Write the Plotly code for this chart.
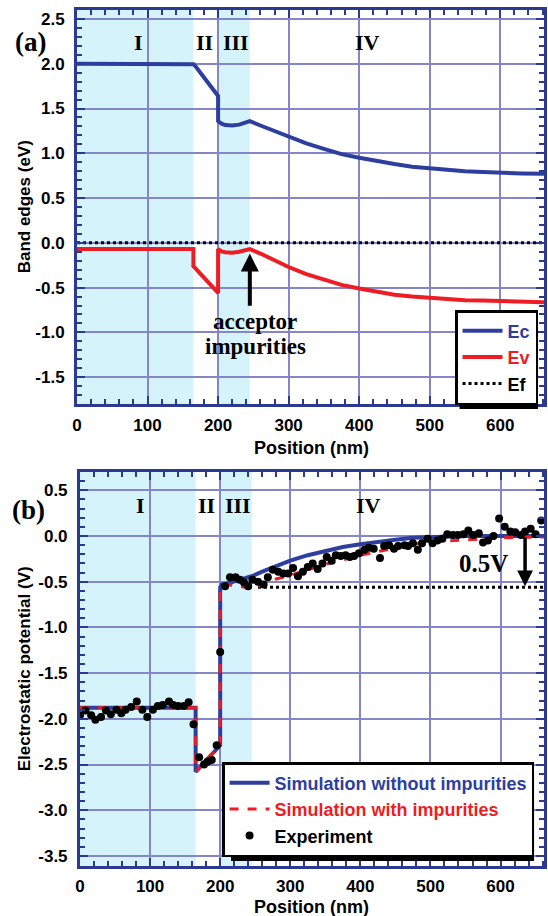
import plotly.graph_objects as go

# ---------------- data: panel (a) band edges ----------------
ec_x = [0, 160, 165, 168, 200, 200, 205, 210, 220, 230, 240, 245, 260, 280, 300, 325, 350, 375,
        400, 425, 450, 475, 500, 525, 550, 575, 600, 630, 662]
ec_y = [2.0, 2.0, 1.995, 1.97, 1.64, 1.36, 1.33, 1.315, 1.31, 1.32, 1.345, 1.36, 1.31, 1.25, 1.19,
        1.11, 1.05, 0.99, 0.95, 0.91, 0.88, 0.85, 0.83, 0.81, 0.80, 0.79, 0.78, 0.775, 0.77]
ev_x = [0, 165, 165, 200, 200, 205, 210, 220, 230, 240, 245, 260, 280, 300, 325, 350, 375, 400,
        425, 450, 475, 500, 525, 550, 575, 600, 630, 662]
ev_y = [-0.07, -0.07, -0.26, -0.56, -0.07, -0.095, -0.105, -0.11, -0.10, -0.08, -0.07, -0.12, -0.20,
        -0.27, -0.35, -0.41, -0.47, -0.51, -0.55, -0.58, -0.60, -0.615, -0.63, -0.64, -0.645, -0.65,
        -0.66, -0.665]
ef_x = [0, 662]
ef_y = [0.0, 0.0]

# ---------------- data: panel (b) electrostatic potential ----------------
sim0_x = [0, 165, 165, 200, 200, 202, 210, 220, 230, 245, 260, 280, 300, 325, 350, 375, 400, 425,
          450, 475, 500, 550, 662]
sim0_y = [-1.88, -1.88, -2.58, -2.29, -0.56, -0.53, -0.52, -0.50, -0.48, -0.44, -0.39, -0.33, -0.27,
          -0.21, -0.16, -0.12, -0.09, -0.06, -0.04, -0.02, -0.01, 0.0, 0.0]
sim1_x = [0, 165, 165, 200, 200, 202, 210, 220, 235, 245, 260, 280, 300, 325, 350, 375, 400, 425,
          450, 475, 500, 550, 600, 662]
sim1_y = [-1.88, -1.88, -2.58, -2.29, -0.56, -0.54, -0.53, -0.54, -0.56, -0.58, -0.53, -0.47, -0.43,
          -0.37, -0.31, -0.26, -0.21, -0.17, -0.13, -0.09, -0.065, -0.04, -0.02, -0.01]
exp_x = [0, 8, 16, 22, 30, 37, 44, 52, 59, 65, 73, 81, 89, 96, 104, 111, 118, 127, 133, 140, 148,
         155, 162, 170, 177, 182, 188, 195, 200,
         207, 214, 222, 228, 234, 240, 246, 254, 262, 268, 275, 283, 290, 297, 304, 311, 318, 325,
         332, 339, 346, 352, 359, 365, 372, 379, 385, 391, 398, 406, 412, 419, 428, 434, 441, 448,
         454, 463, 468, 475, 482, 488, 496, 503, 510, 517, 524, 532, 539, 547, 554, 561, 569, 575,
         582, 590, 598, 606, 614, 621, 629, 635, 643, 650, 658]
exp_y = [-1.96, -1.91, -1.96, -2.01, -1.98, -1.91, -1.95, -1.90, -1.94, -1.90, -1.87, -1.81, -1.90,
         -1.98, -1.90, -1.86, -1.85, -1.81, -1.85, -1.86, -1.86, -1.82, -2.06, -2.42, -2.50, -2.47,
         -2.45, -2.29, -1.27,
         -0.55, -0.45, -0.45, -0.48, -0.51, -0.55, -0.48, -0.50, -0.53, -0.45, -0.37, -0.39, -0.41,
         -0.41, -0.35, -0.44, -0.39, -0.34, -0.30, -0.36, -0.30, -0.23, -0.27, -0.21, -0.22, -0.21,
         -0.23, -0.22, -0.19, -0.15, -0.13, -0.14, -0.24, -0.11, -0.10, -0.14, -0.11, -0.10, -0.11,
         -0.08, -0.15, -0.08, -0.03, -0.08, -0.05, -0.03, 0.02, 0.01, 0.01, 0.02, 0.06, 0.01, 0.03,
         -0.07, -0.05, 0.0, 0.19, 0.10, 0.05, 0.04, 0.01, 0.05, 0.08, 0.02, 0.17]
ref_x = [254, 662]
ref_y = [-0.56, -0.56]

regions = ["I", "II", "III", "IV"]
region_x = [87, 181, 225, 412]
shade_spans = [(0, 165), (200, 245)]

x_ticks = [0, 100, 200, 300, 400, 500, 600]
y1_ticks = [-1.5, -1.0, -0.5, 0.0, 0.5, 1.0, 1.5, 2.0, 2.5]
y2_ticks = [-3.5, -3.0, -2.5, -2.0, -1.5, -1.0, -0.5, 0.0, 0.5]

# ---------------- style ----------------
BLUE = "#2e3e9e"
RED = "#ee1c24"
FRAME = "#2b3990"
GRID = "#8585c9"
SHADE = "#d4f3fb"
SANS = "Liberation Sans"
SERIF = "Liberation Serif"

W, H = 548, 916
ML, MR, MT, MB = 77, 1, 10, 50
PW = W - ML - MR
PH = H - MT - MB


def px_x(p):
    return (p - ML) / PW


def px_y(p):
    return (H - MB - p) / PH


def lab(v):
    return ("%.1f" % v).replace("\u2212", "-")


fig = go.Figure()

fig.add_trace(go.Scatter(x=ec_x, y=ec_y, mode="lines", line=dict(color=BLUE, width=4),
                         name='<span style="color:%s">Ec</span>' % BLUE, xaxis="x", yaxis="y",
                         legend="legend"))
fig.add_trace(go.Scatter(x=ev_x, y=ev_y, mode="lines", line=dict(color=RED, width=4),
                         name='<span style="color:%s">Ev</span>' % RED, xaxis="x", yaxis="y",
                         legend="legend"))
fig.add_trace(go.Scatter(x=ef_x, y=ef_y, mode="lines", line=dict(color="black", width=3, dash="dot"),
                         name="Ef", xaxis="x", yaxis="y", legend="legend"))

fig.add_trace(go.Scatter(x=ref_x, y=ref_y, mode="lines", line=dict(color="black", width=3, dash="dot"),
                         showlegend=False, xaxis="x2", yaxis="y2"))
fig.add_trace(go.Scatter(x=sim0_x, y=sim0_y, mode="lines", line=dict(color=BLUE, width=4),
                         name='<span style="color:%s">Simulation without impurities</span>' % BLUE,
                         xaxis="x2", yaxis="y2", legend="legend2"))
fig.add_trace(go.Scatter(x=sim1_x, y=sim1_y, mode="lines", line=dict(color=RED, width=3, dash="dash"),
                         name='<span style="color:%s">Simulation with impurities</span>' % RED,
                         xaxis="x2", yaxis="y2", legend="legend2"))
fig.add_trace(go.Scatter(x=exp_x, y=exp_y, mode="markers", marker=dict(color="black", size=8),
                         name="Experiment", xaxis="x2", yaxis="y2", legend="legend2"))

# shaded regions
for yref in ("y", "y2"):
    xr = "x" if yref == "y" else "x2"
    for a, b in shade_spans:
        fig.add_shape(type="rect", xref=xr, yref=yref + " domain", x0=a, x1=b, y0=0, y1=1,
                      fillcolor=SHADE, line_width=0, layer="below")

# legend shadows (drawn under the legend boxes, visible only at right/bottom offset)
for (l, t, r, b) in ((462, 319, 541, 409), (232, 773, 537, 861)):
    fig.add_shape(type="rect", xref="paper", yref="paper",
                  x0=px_x(l), x1=px_x(r), y0=px_y(b), y1=px_y(t),
                  fillcolor="black", line_width=0, layer="above")

minor_x = dict(dtick=20, ticklen=5, tickwidth=2, tickcolor=FRAME, ticks="inside", showgrid=False)
minor_y = dict(dtick=0.1, ticklen=5, tickwidth=2, tickcolor=FRAME, ticks="inside", showgrid=False)
axis_common = dict(showline=True, linecolor=FRAME, linewidth=3, mirror="allticks",
                   ticks="inside", ticklen=8, tickwidth=2, tickcolor=FRAME,
                   showgrid=True, gridcolor=GRID, gridwidth=1.5, zeroline=False,
                   tickfont=dict(family=SANS, size=17, color="black", weight="bold"))

fig.update_layout(
    width=W, height=H, margin=dict(l=ML, r=MR, t=MT, b=MB),
    paper_bgcolor="white", plot_bgcolor="white",
    xaxis=dict(domain=[0, 1], range=[0, 662], tickvals=x_ticks, ticktext=[str(v) for v in x_ticks],
               anchor="y", minor=minor_x, ticklabelstandoff=4, **axis_common),
    yaxis=dict(domain=[px_y(404), 1], range=[-1.8, 2.6], tickvals=y1_ticks,
               ticktext=[lab(v) for v in y1_ticks], anchor="x", ticklabelstandoff=6,
               minor=minor_y, **axis_common),
    xaxis2=dict(domain=[px_x(80), 1], range=[0, 662], tickvals=x_ticks,
                ticktext=[str(v) for v in x_ticks], anchor="y2", minor=minor_x,
                ticklabelstandoff=3, **axis_common),
    yaxis2=dict(domain=[0, px_y(472)], range=[-3.61, 0.7], tickvals=y2_ticks,
                ticktext=[lab(v) for v in y2_ticks], anchor="x2", ticklabelstandoff=6,
                minor=minor_y, **axis_common),
    legend=dict(x=px_x(541), y=px_y(405), xanchor="right", yanchor="bottom",
                bgcolor="white", bordercolor="black", borderwidth=2.5,
                font=dict(family=SANS, size=18, color="black", weight="bold"),
                tracegroupgap=0, itemwidth=40),
    legend2=dict(x=px_x(537), y=px_y(857), xanchor="right", yanchor="bottom",
                 bgcolor="white", bordercolor="black", borderwidth=2.5,
                 font=dict(family=SANS, size=18, color="black", weight="bold"),
                 tracegroupgap=0, itemwidth=40),
    showlegend=True,
)


def note(x, y, text, font, xref="paper", yref="paper", angle=0):
    fig.add_annotation(x=x, y=y, xref=xref, yref=yref, text=text, showarrow=False,
                       xanchor="center", yanchor="middle", textangle=angle, font=font)


serif22 = dict(family=SERIF, size=22, color="black", weight="bold")
# roman numerals
for name, xv in zip(regions, region_x):
    note(xv, 2.24, name, serif22, "x", "y")
    note(xv, 0.33, name, serif22, "x2", "y2")

# panel labels
serif27 = dict(family=SERIF, size=27, color="black", weight="bold")
note(px_x(30), px_y(42), "(a)", serif27)
note(px_x(28), px_y(510), "(b)", serif27)

# axis titles
note(px_x(24), px_y(207), "Band edges (eV)", dict(family=SANS, size=17, color="black", weight="bold"),
     angle=-90)
note(px_x(24), px_y(669), "Electrostatic potential (V)",
     dict(family=SANS, size=17, color="black", weight="bold"), angle=-90)
for ypx in (448, 907):
    note(px_x(313), px_y(ypx), "Position (nm)", dict(family=SANS, size=18, color="black", weight="bold"))

# acceptor arrow + text
fig.add_annotation(x=245, y=-0.12, ax=245, ay=-0.72, xref="x", yref="y", axref="x", ayref="y",
                   text="", showarrow=True, arrowhead=2, arrowwidth=4, arrowsize=0.9,
                   arrowcolor="black")
serif23 = dict(family=SERIF, size=23, color="black", weight="bold")
note(252, -0.88, "acceptor", serif23, "x", "y")
note(253, -1.16, "impurities", serif23, "x", "y")

# 0.5 V arrow + text
fig.add_annotation(x=635, y=-0.55, ax=635, ay=0.0, xref="x2", yref="y2", axref="x2", ayref="y2",
                   text="", showarrow=True, arrowhead=2, arrowwidth=3.5, arrowsize=0.9,
                   arrowcolor="black")
note(576, -0.30, "0.5V", dict(family=SERIF, size=25, color="black", weight="bold"), "x2", "y2")

fig.write_html("out.html")
